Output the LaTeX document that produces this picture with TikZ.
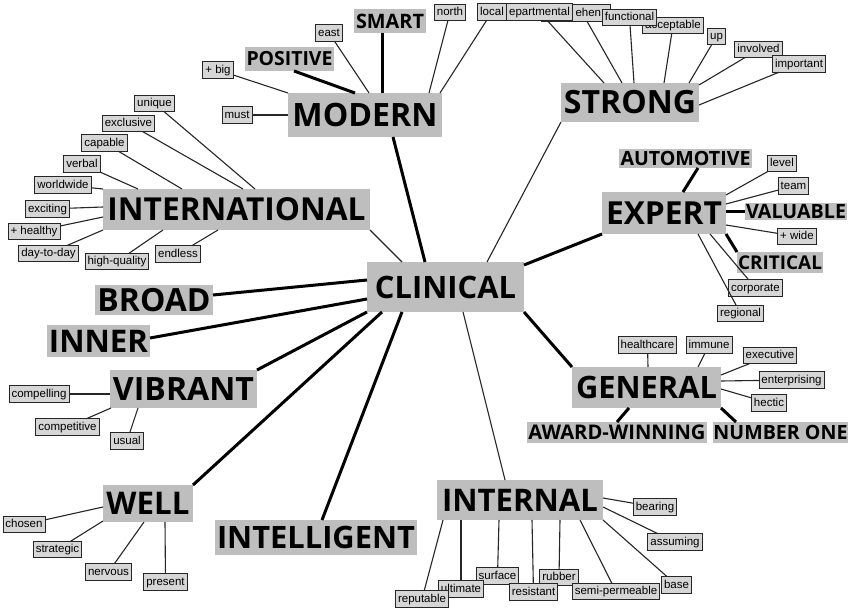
\documentclass[tikz,border=0pt]{standalone}
\usepackage{fontspec}
\setsansfont{Open Sans}
\newfontfamily\labfont{Liberation Sans}
\usetikzlibrary{calc}
\definecolor{boxgray}{RGB}{190,190,190}
\definecolor{labgray}{RGB}{214,214,214}
\newcommand\fw[2]{\resizebox{#1pt}{!}{\sffamily\bfseries #2}}
\begin{document}
\begin{tikzpicture}[x=1pt,y=-1pt,
 big/.style={fill=boxgray,inner sep=0pt,outer sep=0pt},
 lab/.style={fill=labgray,draw=black!85,line width=0.9pt,inner xsep=2.5pt,inner ysep=0pt,text height=9pt,text depth=2.5pt,minimum height=16.5pt,font=\labfont\fontsize{11.5}{13}\selectfont,outer sep=0pt},
 fine/.style={line width=1.1pt,black!85},
 heavy/.style={line width=3pt,black}]
\fill[white] (0,0) rectangle (848,609);
\useasboundingbox (0,0) rectangle (848,609);

% main nodes
\node[big,minimum width=154pt,minimum height=44pt] (modern) at (365,115) {\fw{145}{MODERN}};
\node[big,minimum width=72pt,minimum height=24pt] (smart) at (390,21) {\fw{68}{SMART}};
\node[big,minimum width=89pt,minimum height=24pt] (positive) at (289.5,59) {\fw{86}{POSITIVE}};
\node[big,minimum width=138pt,minimum height=39pt] (strong) at (630,102.5) {\fw{132}{STRONG}};
\node[big,minimum width=267pt,minimum height=41pt] (intl) at (236.5,209.5) {\fw{258}{INTERNATIONAL}};
\node[big,minimum width=124pt,minimum height=42pt] (expert) at (664,213) {\fw{116}{EXPERT}};
\node[big,minimum width=133pt,minimum height=19pt] (auto) at (685.5,158.5) {\fw{130}{AUTOMOTIVE}};
\node[big,minimum width=102pt,minimum height=17pt] (valuable) at (796,211.5) {\fw{100}{VALUABLE}};
\node[big,minimum width=86pt,minimum height=21pt] (critical) at (780,262.5) {\fw{84}{CRITICAL}};
\node[big,minimum width=157pt,minimum height=50pt] (clinical) at (445.5,287) {\fw{141}{CLINICAL}};
\node[big,minimum width=118pt,minimum height=30pt] (broad) at (154,300) {\fw{113}{BROAD}};
\node[big,minimum width=103pt,minimum height=32pt] (inner) at (98.5,341) {\fw{99}{INNER}};
\node[big,minimum width=147pt,minimum height=38pt] (vibrant) at (183.5,389) {\fw{141}{VIBRANT}};
\node[big,minimum width=149pt,minimum height=41pt] (general) at (646.5,387.5) {\fw{141}{GENERAL}};
\node[big,minimum width=180pt,minimum height=21pt] (award) at (617,432.5) {\fw{177}{AWARD-WINNING}};
\node[big,minimum width=135pt,minimum height=21pt] (numone) at (780.5,432.5) {\fw{134}{NUMBER ONE}};
\node[big,minimum width=90pt,minimum height=37pt] (well) at (148,503.5) {\fw{83}{WELL}};
\node[big,minimum width=202pt,minimum height=35pt] (intel) at (316,537.5) {\fw{198}{INTELLIGENT}};
\node[big,minimum width=166pt,minimum height=40pt] (internal) at (520,500) {\fw{156}{INTERNAL}};

% labels
\node[lab] (east) at (329,33) {east};
\node[lab] (plusbig) at (218,70) {+ big};
\node[lab] (must) at (237,115) {must};
\node[lab] (north) at (450,12.5) {north};
\node[lab,anchor=west,text width=64pt,align=left] (comp) at (541,13) {\hspace*{32pt}ehen};
\node[lab] (accept) at (673,25.5) {acceptable};
\node[lab] (dep) at (539.5,12) {epartmental};
\node[lab] (local) at (492,12) {local};
\node[lab] (func) at (629.5,17.5) {functional};
\node[lab] (up) at (716.5,36.5) {up};
\node[lab] (involved) at (758.5,49.5) {involved};
\node[lab] (important) at (799,64) {important};
\node[lab] (unique) at (154.5,103.5) {unique};
\node[lab] (exclusive) at (128.5,123.5) {exclusive};
\node[lab] (capable) at (104.5,143) {capable};
\node[lab] (verbal) at (82,164) {verbal};
\node[lab] (worldwide) at (63,185) {worldwide};
\node[lab] (exciting) at (47.5,209) {exciting};
\node[lab] (healthy) at (34,231.5) {+ healthy};
\node[lab] (daytoday) at (48.5,253.5) {day-to-day};
\node[lab] (highq) at (117,261.5) {high-quality};
\node[lab] (endless) at (178,254) {endless};
\node[lab] (level) at (782,163.5) {level};
\node[lab] (team) at (793.5,186) {team};
\node[lab] (wide) at (797,236.5) {+ wide};
\node[lab] (corporate) at (755.5,288) {corporate};
\node[lab] (regional) at (740.5,313.5) {regional};
\node[lab] (healthcare) at (647.5,345) {healthcare};
\node[lab] (immune) at (709,345) {immune};
\node[lab] (executive) at (770,355.5) {executive};
\node[lab] (enterprising) at (791.5,380) {enterprising};
\node[lab] (hectic) at (769,403) {hectic};
\node[lab] (compelling) at (39,394) {compelling};
\node[lab] (competitive) at (67.5,427) {competitive};
\node[lab] (usual) at (127,441) {usual};
\node[lab] (chosen) at (24,524.5) {chosen};
\node[lab] (strategic) at (57.5,549.5) {strategic};
\node[lab] (nervous) at (108.5,572) {nervous};
\node[lab] (present) at (165.5,582) {present};
\node[lab] (surface) at (497.5,576) {surface};
\node[lab] (ultimate) at (461,589) {ultimate};
\node[lab] (reputable) at (422,599) {reputable};
\node[lab] (rubber) at (559,577.5) {rubber};
\node[lab] (resistant) at (533.5,592) {resistant};
\node[lab] (semiperm) at (616,591.5) {semi-permeable};
\node[lab] (base) at (676.5,585) {base};
\node[lab] (bearing) at (655,507) {bearing};
\node[lab] (assuming) at (675,542) {assuming};

% MODERN
\draw[heavy] ($(smart)+(-8,12)$) -- ($(modern)+(17,-22)$);
\draw[heavy] ($(positive)+(4.5,12)$) -- ($(modern)+(-10,-22)$);
\draw[fine] (east) -- ($(modern)+(4,-22)$);
\draw[fine] (plusbig) -- ($(modern)+(-77,-22)$);
\draw[fine] (must) -- ($(modern)+(-77,0)$);
\draw[fine] (north) -- ($(modern)+(64,-22)$);
\draw[fine] (local) -- ($(modern)+(75,-22)$);
\draw[heavy] ($(modern)+(28,22)$) -- ($(clinical)+(-20.5,-25)$);
% CLINICAL
\draw[fine] ($(intl)+(133.5,20.5)$) -- ($(clinical)+(-43.5,-25)$);
\draw[fine] ($(strong)+(-69,19.5)$) -- ($(clinical)+(41.5,-25)$);
\draw[heavy] ($(expert)+(-62,21)$) -- ($(clinical)+(78.5,-22)$);
\draw[heavy] ($(general)+(-74.5,-20.5)$) -- ($(clinical)+(78.5,25)$);
\draw[fine] ($(internal)+(-15,-20)$) -- ($(clinical)+(17.5,25)$);
\draw[heavy] ($(intel)+(6,-17.5)$) -- ($(clinical)+(-43.5,25)$);
\draw[heavy] ($(well)+(45,-18.5)$) -- ($(clinical)+(-63.5,25)$);
\draw[heavy] ($(vibrant)+(73.5,-19)$) -- ($(clinical)+(-78.5,25)$);
\draw[heavy] ($(inner)+(51.5,-3)$) -- ($(clinical)+(-78.5,12)$);
\draw[heavy] ($(broad)+(59,-5)$) -- ($(clinical)+(-78.5,-7)$);
% STRONG
\draw[fine] (dep) -- ($(strong)+(-26,-19.5)$);
\draw[fine] ($(comp.south west)+(46,0)$) -- ($(strong)+(-8,-19.5)$);
\draw[fine] (func) -- ($(strong)+(4,-19.5)$);
\draw[fine] (accept) -- ($(strong)+(34,-19.5)$);
\draw[fine] (up) -- ($(strong)+(59,-19.5)$);
\draw[fine] (involved) -- ($(strong)+(69,-17.5)$);
\draw[fine] (important) -- ($(strong)+(69,2.5)$);
% INTERNATIONAL
\draw[fine] (unique) -- ($(intl)+(18.5,-20.5)$);
\draw[fine] (exclusive) -- ($(intl)+(6.5,-20.5)$);
\draw[fine] (capable) -- ($(intl)+(-54.5,-20.5)$);
\draw[fine] (verbal) -- ($(intl)+(-98.5,-20.5)$);
\draw[fine] (worldwide) -- ($(intl)+(-133.5,-20.5)$);
\draw[fine] (exciting) -- ($(intl)+(-133.5,-2.5)$);
\draw[fine] (healthy) -- ($(intl)+(-133.5,7.5)$);
\draw[fine] (daytoday) -- ($(intl)+(-133.5,20.5)$);
\draw[fine] (highq) -- ($(intl)+(-73.5,20.5)$);
\draw[fine] (endless) -- ($(intl)+(-18.5,20.5)$);
% EXPERT
\draw[heavy] ($(auto)+(12.5,9.5)$) -- ($(expert)+(19,-21)$);
\draw[fine] (level) -- ($(expert)+(62,-18)$);
\draw[fine] (team) -- ($(expert)+(62,-9)$);
\draw[heavy] ($(valuable)+(-51,0.5)$) -- ($(expert)+(62,-1)$);
\draw[fine] (wide) -- ($(expert)+(62,12)$);
\draw[heavy] ($(critical)+(-43,-10.5)$) -- ($(expert)+(62,21)$);
\draw[fine] (corporate) -- ($(expert)+(46,21)$);
\draw[fine] (regional) -- ($(expert)+(34,21)$);
% GENERAL
\draw[fine] (healthcare) -- ($(general)+(1.5,-20.5)$);
\draw[fine] (immune) -- ($(general)+(51.5,-20.5)$);
\draw[fine] (executive) -- ($(general)+(74.5,-12.5)$);
\draw[fine] (enterprising) -- ($(general)+(74.5,-6.5)$);
\draw[fine] (hectic) -- ($(general)+(74.5,1.5)$);
\draw[heavy] ($(award)+(0,-10.5)$) -- ($(general)+(-17.5,20.5)$);
\draw[heavy] ($(numone)+(-44.5,-10.5)$) -- ($(general)+(74.5,20.5)$);
% VIBRANT
\draw[fine] (compelling) -- ($(vibrant)+(-73.5,5)$);
\draw[fine] (competitive) -- ($(vibrant)+(-72.5,19)$);
\draw[fine] (usual) -- ($(vibrant)+(-45.5,19)$);
% WELL
\draw[fine] (chosen) -- ($(well)+(-45,3.5)$);
\draw[fine] (strategic) -- ($(well)+(-45,17.5)$);
\draw[fine] (nervous) -- ($(well)+(-4,18.5)$);
\draw[fine] (present) -- ($(well)+(17,18.5)$);
% INTERNAL
\draw[fine] (reputable) -- ($(internal)+(-77,20)$);
\draw[fine] (ultimate) -- ($(internal)+(-59,20)$);
\draw[fine] (surface) -- ($(internal)+(-21,20)$);
\draw[fine] (resistant) -- ($(internal)+(12,20)$);
\draw[fine] (rubber) -- ($(internal)+(40,20)$);
\draw[fine] (semiperm) -- ($(internal)+(60,20)$);
\draw[fine] (base) -- ($(internal)+(83,20)$);
\draw[fine] (bearing) -- ($(internal)+(83,-2)$);
\draw[fine] (assuming) -- ($(internal)+(83,7)$);
\end{tikzpicture}
\end{document}
